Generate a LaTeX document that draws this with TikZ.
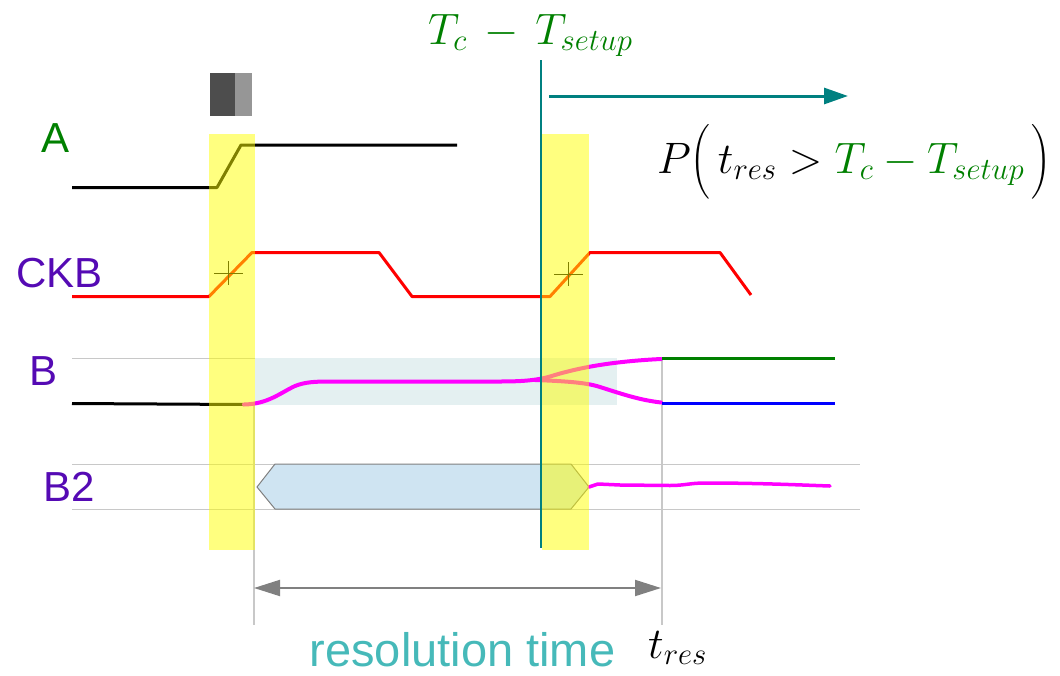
\RequirePackage{fix-cm}
\documentclass[tikz,border=0pt]{standalone}
\usepackage{amsmath}
\usepackage{fontspec}
\setmainfont{Liberation Sans}
\usetikzlibrary{arrows.meta}
\definecolor{lblpurple}{RGB}{85,10,180}
\definecolor{tealline}{RGB}{0,128,128}
\definecolor{restime}{RGB}{70,185,185}
\definecolor{rowshade}{RGB}{228,240,241}
\definecolor{busfill}{RGB}{207,228,242}
\definecolor{gridgray}{RGB}{200,200,200}
\definecolor{darkgreen}{RGB}{0,128,0}
\definecolor{boxdark}{RGB}{77,77,77}
\definecolor{boxlight}{RGB}{150,150,150}
\definecolor{arrowgray}{RGB}{128,128,128}
\definecolor{sigmag}{RGB}{255,0,255}
\definecolor{sigred}{RGB}{255,0,0}
\definecolor{sigblue}{RGB}{0,0,255}
\definecolor{sigyellow}{RGB}{255,255,0}
\begin{document}
\begin{tikzpicture}[x=1pt,y=-1pt,
  lbl/.style={font=\fontsize{42}{48}\selectfont, text=lblpurple, inner sep=0},
  sig/.style={line width=3pt, line join=round},
  gridline/.style={draw=gridgray, line width=1pt},
  band/.style={fill=sigyellow, fill opacity=0.5},
  mathlbl/.style={font=\fontsize{44}{50}\selectfont, inner sep=0},
  magsig/.style={line width=4pt, sigmag, line join=round, line cap=round}]
\useasboundingbox (0,0) rectangle (1060,675);
% grey marker box
\fill[boxdark] (210,73) rectangle (235,116);
\fill[boxlight] (235,73) rectangle (252,116);
% grid lines
\draw[gridline] (72,358) -- (473,358) (72,404) -- (473,404);
\draw[gridline] (72,464) -- (860,464) (72,509) -- (860,509);
% shaded B row
\fill[rowshade] (255,358) rectangle (617,405);
% bus hexagon
\draw[fill=busfill, draw=arrowgray, line width=1pt] (257,487) -- (275,464) -- (571,464) -- (589,487) -- (571,509) -- (275,509) -- cycle;
% vertical markers
\coordinate (m1top) at (254,405);
\coordinate (m1bot) at (254,625);
\coordinate (m2top) at (662,358);
\coordinate (m2bot) at (662,625);
\draw[gridline, line width=1.5pt] (m1top) -- (m1bot);
\draw[gridline, line width=1.5pt] (m2top) -- (m2bot);
% A signal
\draw[sig] (72,187.5) -- (217,187.5) -- (241,145) -- (457,145);
% CKB signal
\draw[sig, sigred] (72,296.5) -- (209,296.5) -- (252,252.5) -- (379,252.5) -- (412,296.5) -- (550,296.5) -- (590,252.5) -- (720,252.5) -- (751,295);
\draw[black, line width=1pt] (214,273) -- (243,273) (228,261) -- (228,285);
\draw[black, line width=1pt] (554,274) -- (583,274) (568,262) -- (568,286);
% B signal
\draw[sig] (72,403.5) -- (244,404.5);
\draw[magsig] (244,404.5) .. controls (268,404) and (280,393) .. (295,386) .. controls (305,382) and (315,381.5) .. (330,381.5) -- (500,381.5) .. controls (525,381.5) and (540,380) .. (555,375) .. controls (585,366) and (620,361) .. (661,359);
\draw[magsig] (535,380) .. controls (560,381) and (585,382) .. (600,387) .. controls (625,395) and (640,400) .. (661,402.5);
\draw[sig, darkgreen] (662,358) -- (835,358);
\draw[sig, sigblue] (662,403) -- (835,403);
% B2 signal
\draw[magsig, line width=3.5pt] (589,487) -- (598,484) -- (620,485) -- (670,485.5) .. controls (685,485.5) and (690,483) .. (705,483) .. controls (760,483) and (800,485) .. (830,486);
% yellow bands
\fill[band] (209,134) rectangle (255,550);
\fill[band] (542,134) rectangle (589,550);
% Tc - Tsetup line and arrow
\coordinate (tctop) at (541,60);
\coordinate (tcbot) at (541,548);
\coordinate (arrs) at (549,96);
\coordinate (arre) at (848,96);
\draw[tealline, line width=2pt] (tctop) -- (tcbot);
\draw[tealline, line width=3pt, -{Triangle[length=24pt,width=16pt]}] (arrs) -- (arre);
% resolution time arrow
\coordinate (rs) at (254,588);
\coordinate (re) at (661,588);
\draw[arrowgray, line width=2pt, {Triangle[length=26pt,width=16pt]}-{Triangle[length=26pt,width=16pt]}] (rs) -- (re);
% labels
\node[lbl, text=darkgreen] (labA) at (55.5,138) {A};
\node[lbl] (labCKB) at (59.5,273) {CKB};
\node[lbl] (labB) at (43.5,371) {B};
\node[lbl] (labB2) at (69,487) {B2};
\node[font=\fontsize{47}{52}\selectfont, text=restime, anchor=base, inner sep=0] (restext) at (462.5,666) {resolution time};
\node[mathlbl, anchor=base west, text=darkgreen] (tcform) at (428,44) {$T_c \mathbin{\,-\,} T_{setup}$};
\node[mathlbl, anchor=base west] (prob) at (657,173) {$P\Bigl(\,t_{res} > \textcolor{darkgreen}{T_c - T_{setup}}\,\Bigr)$};
\node[mathlbl, anchor=base west] (tres) at (648,658) {$t_{res}$};
\end{tikzpicture}
\end{document}
